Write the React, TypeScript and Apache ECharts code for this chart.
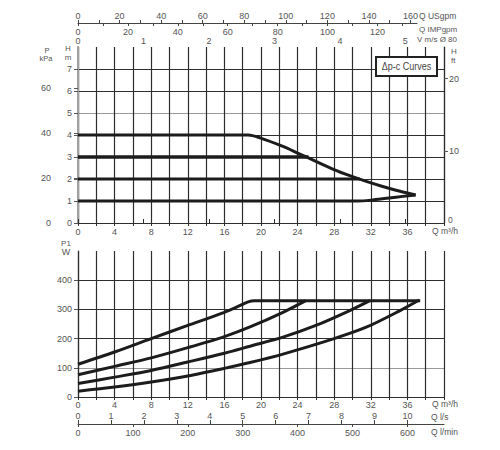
import React, { useEffect, useRef } from "react";
import * as echarts from "echarts";

// ---- Data ----
const qTicksM3h = [0, 4, 8, 12, 16, 20, 24, 28, 32, 36];
const hTicks = [0, 1, 2, 3, 4, 5, 6, 7];
const kpaTicks = [0, 20, 40, 60];
const ftTicks = [10, 20];
const vTicks = [0, 1, 2, 3, 4, 5];
const usgpmLabels = [0, 20, 40, 60, 80, 100, 120, 140, 160];
const usgpmTicks = [0, 10, 20, 30, 40, 50, 60, 70, 80, 90, 100, 110, 120, 130, 140, 150, 160];
const impLabels = [0, 20, 40, 60, 80, 100, 120];
const impTicks = [0, 10, 20, 30, 40, 50, 60, 70, 80, 90, 100, 110, 120, 130];
const lsTicks = [0, 1, 2, 3, 4, 5, 6, 7, 8, 9, 10];
const lminTicks = [0, 100, 200, 300, 400, 500, 600];
const wTicks = [0, 100, 200, 300, 400];

// Δp-c head curves (Q m3/h, H m)
const head4: [number, number][] = [
  [0, 4], [18.6, 4], [19.9, 3.87], [22.4, 3.48], [24, 3.18], [26, 2.8],
  [27.9, 2.44], [29.7, 2.15], [31.5, 1.89], [33.3, 1.66], [35.2, 1.44], [36.9, 1.27],
];
const head3: [number, number][] = [[0, 3], [25.2, 3]];
const head2: [number, number][] = [[0, 2], [30.8, 2]];
const head1: [number, number][] = [
  [0, 1], [30.5, 1], [32, 1.04], [34, 1.14], [35.5, 1.21], [36.9, 1.27],
];

// Power curves (Q m3/h, P1 W)
const power4: [number, number][] = [
  [0, 112], [4, 154], [8, 200], [12, 245], [16, 290], [17.5, 310], [18.6, 326], [19.3, 330], [37.4, 330],
];
const power3: [number, number][] = [
  [0, 76], [4, 105], [8, 134], [12, 169], [16, 207], [18.8, 240], [22.4, 290], [24.9, 330],
];
const power2: [number, number][] = [
  [0, 46], [4, 68], [8, 91], [12, 120], [16, 150], [18.8, 174], [22.4, 205], [26, 245],
  [29.7, 296], [31.9, 330],
];
const power1: [number, number][] = [
  [0, 20], [4, 34], [8, 51], [12, 72], [16, 98], [18.8, 118], [22.4, 147], [27.9, 199],
  [31.5, 239], [35.2, 296], [37.3, 332],
];

// Axis ranges
const Q_MAX = 40; // m3/h
const H_MAX = 8; // m
const KPA_MAX = H_MAX * 9.80665;
const FT_MAX = 24.4;
const V_MAX = 5.59;
const USGPM_PER_M3H = 4.4029;
const IMP_PER_M3H = 3.6662;
const TOP_STRIP_FRAC = 339 / 366;
const LS_MAX = Q_MAX / 3.6;
const LMIN_MAX = (Q_MAX * 1000) / 60;
const W_MAX = 500;

const FONT = "Liberation Sans, Arial, sans-serif";
const LABEL_COLOR = "#555";
const GRID_COLOR = "#2e2e2e";
const CURVE_COLOR = "#1c1c1c";

const lbl = (extra: any = {}) => ({
  color: LABEL_COLOR,
  fontSize: 9,
  fontFamily: FONT,
  ...extra,
});

const txt = (text: string, x: number, y: number, align = "left", size = 9) => ({
  type: "text",
  x,
  y,
  silent: true,
  style: {
    text,
    fill: LABEL_COLOR,
    font: `${size}px ${FONT}`,
    textAlign: align,
    textVerticalAlign: "middle",
  },
});

export default function App() {
  const ref = useRef<HTMLDivElement>(null);

  useEffect(() => {
    if (!ref.current) return;
    const chart = echarts.init(ref.current, null, { renderer: "svg" });

    const hColors = [0, 1, 2, 3, 4, 5, 6, 7, 8].map((v) => (v === 5 ? "#9a9a9a" : GRID_COLOR));
    const wColors = [0, 1, 2, 3, 4, 5].map((v) => (v === 1 ? "#9a9a9a" : GRID_COLOR));

    const curve = (data: [number, number][], xi: number, yi: number, w = 3) => ({
      type: "line",
      xAxisIndex: xi,
      yAxisIndex: yi,
      data,
      showSymbol: false,
      smooth: 0.3,
      lineStyle: { color: CURVE_COLOR, width: w },
      z: 5,
    });

    chart.setOption({
      animation: false,
      backgroundColor: "#fff",
      grid: [
        { left: 78, top: 47, width: 366, height: 176 },
        { left: 78, top: 251, width: 366, height: 146 },
        { left: 78, top: 22, width: 339, height: 1 },
      ],
      xAxis: [
        {
          gridIndex: 0, type: "value", position: "bottom", min: 0, max: Q_MAX, interval: 2,
          axisLine: { show: true, lineStyle: { color: GRID_COLOR, width: 1.2 } },
          axisTick: { show: true, length: 3, lineStyle: { color: GRID_COLOR } },
          axisLabel: { ...lbl(), margin: 4, customValues: qTicksM3h },
          splitLine: { show: true, lineStyle: { color: GRID_COLOR, width: 1.2 } },
        },
        {
          gridIndex: 0, type: "value", position: "top", min: 0, max: V_MAX,
          axisLine: { show: true, lineStyle: { color: GRID_COLOR, width: 1.2 } },
          axisTick: { show: true, length: 4, customValues: vTicks, lineStyle: { color: GRID_COLOR } },
          axisLabel: { ...lbl(), margin: 2, customValues: vTicks },
          splitLine: { show: false },
        },
        {
          gridIndex: 2, type: "value", position: "bottom", min: 0, max: Q_MAX * USGPM_PER_M3H * TOP_STRIP_FRAC,
          axisLine: { show: true, lineStyle: { color: "#444", width: 1 } },
          axisTick: { show: true, inside: true, length: 3, customValues: usgpmTicks, lineStyle: { color: "#444" } },
          axisLabel: { ...lbl(), inside: true, margin: 3, customValues: usgpmLabels },
          splitLine: { show: false },
        },
        {
          gridIndex: 2, type: "value", position: "bottom", min: 0, max: Q_MAX * IMP_PER_M3H * TOP_STRIP_FRAC,
          axisLine: { show: false },
          axisTick: { show: true, length: 3, customValues: impTicks, lineStyle: { color: "#444" } },
          axisLabel: { ...lbl(), margin: 4, customValues: impLabels },
          splitLine: { show: false },
        },
        {
          gridIndex: 1, type: "value", position: "bottom", min: 0, max: Q_MAX, interval: 2,
          axisLine: { show: true, lineStyle: { color: GRID_COLOR, width: 1.2 } },
          axisTick: { show: true, length: 3, lineStyle: { color: GRID_COLOR } },
          axisLabel: { ...lbl(), margin: 3, customValues: qTicksM3h },
          splitLine: { show: true, lineStyle: { color: GRID_COLOR, width: 1.2 } },
        },
        {
          gridIndex: 1, type: "value", position: "bottom", offset: 27, min: 0, max: LS_MAX,
          axisLine: { show: true, lineStyle: { color: "#444", width: 1 } },
          axisTick: { show: true, inside: true, length: 4, customValues: lsTicks, lineStyle: { color: "#444" } },
          axisLabel: { ...lbl(), inside: true, margin: 4, customValues: lsTicks },
          splitLine: { show: false },
        },
        {
          gridIndex: 1, type: "value", position: "bottom", offset: 27, min: 0, max: LMIN_MAX,
          axisLine: { show: false },
          axisTick: { show: true, length: 3, customValues: lminTicks, lineStyle: { color: "#444" } },
          axisLabel: { ...lbl(), margin: 4, customValues: lminTicks },
          splitLine: { show: false },
        },
      ],
      yAxis: [
        {
          gridIndex: 0, type: "value", position: "left", min: 0, max: H_MAX, interval: 1,
          axisLine: { show: true, lineStyle: { color: GRID_COLOR, width: 1.2 } },
          axisTick: { show: true, length: 4, customValues: hTicks, lineStyle: { color: "#555" } },
          axisLabel: { ...lbl(), margin: 6, customValues: hTicks },
          splitLine: { show: true, lineStyle: { color: hColors, width: 1.2 } },
        },
        {
          gridIndex: 0, type: "value", position: "left", offset: 21, min: 0, max: KPA_MAX,
          axisLine: { show: true, lineStyle: { color: "#a0a0a0", width: 2 } },
          axisTick: { show: true, length: 4, customValues: kpaTicks, lineStyle: { color: "#555" } },
          axisLabel: { ...lbl(), margin: 6, customValues: kpaTicks },
          splitLine: { show: false },
        },
        {
          gridIndex: 0, type: "value", position: "right", min: 0, max: FT_MAX,
          axisLine: { show: true, lineStyle: { color: GRID_COLOR, width: 1.2 } },
          axisTick: { show: true, length: 4, customValues: ftTicks, lineStyle: { color: "#555" } },
          axisLabel: { ...lbl(), margin: 5, customValues: ftTicks },
          splitLine: { show: false },
        },
        {
          gridIndex: 1, type: "value", position: "left", min: 0, max: W_MAX, interval: 100,
          axisLine: { show: true, lineStyle: { color: GRID_COLOR, width: 1.2 } },
          axisTick: { show: true, length: 4, customValues: wTicks, lineStyle: { color: "#555" } },
          axisLabel: { ...lbl(), margin: 6, customValues: wTicks },
          splitLine: { show: true, lineStyle: { color: wColors, width: 1.2 } },
        },
        {
          gridIndex: 2, type: "value", min: 0, max: 1, show: false,
        },
      ],
      series: [
        curve(head4, 0, 0),
        curve(head3, 0, 0, 3.5),
        curve(head2, 0, 0),
        curve(head1, 0, 0),
        curve(power4, 4, 3),
        curve(power3, 4, 3),
        curve(power2, 4, 3),
        curve(power1, 4, 3),
      ],
      graphic: [
        txt("P", 47, 50.5, "center", 7.5),
        txt("kPa", 46, 58, "center", 7.5),
        txt("H", 68, 48.5, "center", 8),
        txt("m", 68, 57, "center", 8),
        txt("H", 451, 51.5, "left", 8),
        txt("ft", 451, 60, "left", 8),
        txt("0", 448, 219.5, "left", 8.5),
        txt("P1", 66, 243, "center", 8),
        txt("W", 66, 251.5, "center", 9),
        txt("Q USgpm", 419, 15.5, "left", 8.5),
        txt("Q IMPgpm", 419, 29.5, "left", 8),
        txt("V m/s Ø 80", 417, 39.5, "left", 8),
        txt("Q m³/h", 432, 231, "left", 8.5),
        txt("Q m³/h", 432, 404, "left", 8.5),
        txt("Q l/s", 431, 417, "left", 8.5),
        txt("Q l/min", 431, 432, "left", 8.5),
        {
          type: "rect",
          shape: { x: 376, y: 57, width: 61, height: 19 },
          style: { fill: "#fff", stroke: "#222", lineWidth: 2 },
          z: 10,
        },
        {
          type: "text",
          x: 406.5,
          y: 66.5,
          scaleX: 0.82,
          z: 11,
          style: {
            text: "Δp-c Curves",
            fill: "#444",
            font: `11px ${FONT}`,
            textAlign: "center",
            textVerticalAlign: "middle",
          },
        },
      ],
    });

    return () => chart.dispose();
  }, []);

  return (
    <div
      ref={ref}
      style={{ position: "absolute", left: 0, top: 0, width: 500, height: 450, background: "#fff" }}
    />
  );
}
